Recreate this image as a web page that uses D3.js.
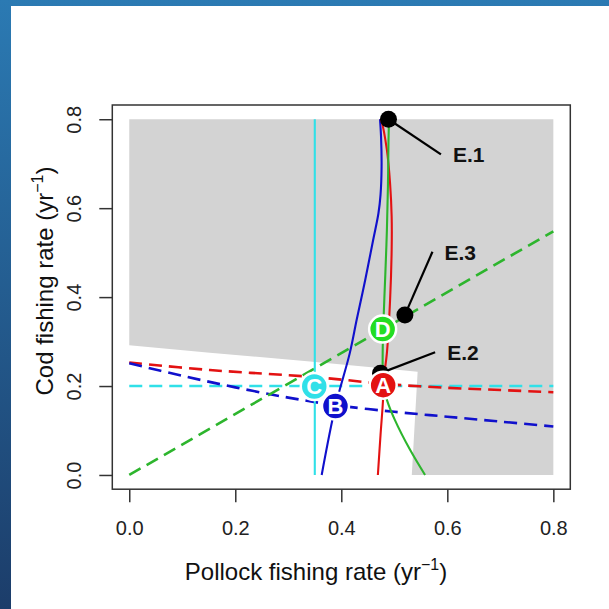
<!DOCTYPE html>
<html>
<head>
<meta charset="utf-8">
<script src="https://cdn.jsdelivr.net/npm/d3@7"></script>
<style>
  body { margin: 0; background: #fff; }
  text { font-family: "Liberation Sans", Arial, sans-serif; }
</style>
</head>
<body>
<div class="vis-chart"></div>
<script>
// ---- data ----
const xTicks = [0, 0.2, 0.4, 0.6, 0.8];
const yTicks = [0, 0.2, 0.4, 0.6, 0.8];

// grey region (pollock F, cod F)
const greyRegion = [[0, 0.8], [0.8, 0.8], [0.8, 0], [0.533, 0], [0.544, 0.232],
  [0.467, 0.241], [0.341, 0.255], [0.152, 0.275], [0, 0.292]];

// solid curves
const redSolid = [[0.469, 0], [0.474, 0.09], [0.479, 0.176], [0.479, 0.205], [0.486, 0.274],
  [0.492, 0.393], [0.495, 0.506], [0.495, 0.581], [0.492, 0.656], [0.486, 0.731], [0.476, 0.795], [0.474, 0.8]];
const blueSolid = [[0.363, 0], [0.389, 0.155], [0.416, 0.274], [0.429, 0.349], [0.445, 0.438],
  [0.46, 0.528], [0.47, 0.588], [0.474, 0.63], [0.476, 0.693], [0.475, 0.76], [0.473, 0.8]];
const greenSolid = [[0.558, 0], [0.53, 0.056], [0.501, 0.124], [0.486, 0.169], [0.479, 0.203],
  [0.478, 0.26], [0.479, 0.327], [0.483, 0.45], [0.486, 0.55], [0.488, 0.65], [0.489, 0.75], [0.49, 0.8]];
const cyanSolid = [[0.35, 0], [0.35, 0.8]];

// dashed curves
const redDashed = [[0, 0.253], [0.152, 0.236], [0.341, 0.221], [0.404, 0.214], [0.479, 0.205],
  [0.6, 0.196], [0.7, 0.191], [0.8, 0.186]];
const blueDashed = [[0, 0.251], [0.1, 0.223], [0.2, 0.197], [0.3, 0.174], [0.389, 0.157],
  [0.5, 0.142], [0.6, 0.131], [0.7, 0.12], [0.8, 0.109]];
const greenDashed = [[0, 0], [0.8, 0.548]];
const cyanDashed = [[0, 0.2], [0.8, 0.2]];

// lettered points
const letterNames = ['A', 'B', 'C', 'D'];
const letterX = [0.479, 0.389, 0.349, 0.478];
const letterY = [0.202, 0.155, 0.199, 0.328];
const letterColors = ['#e31212', '#1010cc', '#30e0e8', '#22dd22'];

// equilibrium points
const eNames = ['E.1', 'E.3', 'E.2'];
const eX = [0.489, 0.52, 0.474];
const eY = [0.8, 0.36, 0.229];
const eLabelX = [0.588, 0.572, 0.577];
const eLabelY = [0.721, 0.502, 0.276];

// ---- drawing ----
const width = 609, height = 609;
const svg = d3.select('.vis-chart').append('svg')
  .attr('width', width).attr('height', height);

const defs = svg.append('defs');
const grad = defs.append('linearGradient').attr('id', 'bg')
  .attr('x1', 0).attr('y1', 0).attr('x2', 0).attr('y2', 1);
grad.append('stop').attr('offset', '0%').attr('stop-color', '#2b7ab3');
grad.append('stop').attr('offset', '100%').attr('stop-color', '#1c3d6a');
svg.append('rect').attr('width', width).attr('height', height).attr('fill', 'url(#bg)');
svg.append('rect').attr('x', 11).attr('y', 6).attr('width', width - 11).attr('height', height - 6)
  .attr('fill', '#fff');

// scales (R style 4% padding)
const x = d3.scaleLinear().domain([-0.032, 0.832]).range([112.3, 570.3]);
const y = d3.scaleLinear().domain([-0.032, 0.832]).range([489.2, 105.0]);

svg.append('path')
  .attr('d', d3.line().x(d => x(d[0])).y(d => y(d[1]))(greyRegion) + 'Z')
  .attr('fill', '#d3d3d3');

const smooth = d3.line().x(d => x(d[0])).y(d => y(d[1])).curve(d3.curveCatmullRom);

const dashed = [[cyanDashed, '#30e0e8'], [redDashed, '#e31212'], [blueDashed, '#1010cc'], [greenDashed, '#2db52d']];
dashed.forEach(([pts, col]) => {
  svg.append('path').attr('d', smooth(pts)).attr('fill', 'none')
    .attr('stroke', col).attr('stroke-width', 2.6).attr('stroke-dasharray', '13,7');
});

const solid = [[cyanSolid, '#30e0e8'], [blueSolid, '#1010cc'], [redSolid, '#e31212'], [greenSolid, '#2db52d']];
solid.forEach(([pts, col]) => {
  svg.append('path').attr('d', smooth(pts)).attr('fill', 'none')
    .attr('stroke', col).attr('stroke-width', 2.1);
});

// E points with leader lines
eNames.forEach((name, i) => {
  svg.append('line')
    .attr('x1', x(eX[i])).attr('y1', y(eY[i]))
    .attr('x2', x(eLabelX[i])).attr('y2', y(eLabelY[i]))
    .attr('stroke', '#000').attr('stroke-width', 2.2);
  svg.append('circle').attr('cx', x(eX[i])).attr('cy', y(eY[i])).attr('r', 8.5).attr('fill', '#000');
  svg.append('text')
    .attr('x', x(eLabelX[i]) + 12).attr('y', y(eLabelY[i]) + 8)
    .attr('font-size', 21).attr('font-weight', 'bold').attr('fill', '#111')
    .text(name);
});

// lettered circles
letterNames.forEach((name, i) => {
  svg.append('circle').attr('cx', x(letterX[i])).attr('cy', y(letterY[i])).attr('r', 13.5)
    .attr('fill', letterColors[i]).attr('stroke', '#fff').attr('stroke-width', 2.5);
  svg.append('text').attr('x', x(letterX[i])).attr('y', y(letterY[i]))
    .attr('dy', '0.36em').attr('text-anchor', 'middle')
    .attr('font-size', 22).attr('font-weight', 'bold').attr('fill', '#fff')
    .text(name);
});

// box
svg.append('rect').attr('x', 112.3).attr('y', 105).attr('width', 458).attr('height', 384.2)
  .attr('fill', 'none').attr('stroke', '#333').attr('stroke-width', 1.5);

// axes
const xAxis = svg.append('g').attr('transform', 'translate(0,489.2)')
  .call(d3.axisBottom(x).tickValues(xTicks).tickFormat(d3.format('.1f')).tickSize(13).tickPadding(19));
xAxis.select('.domain').remove();
xAxis.selectAll('line').attr('stroke', '#333').attr('stroke-width', 1.5);
xAxis.selectAll('text').attr('font-size', 20).attr('fill', '#222')
  .style('font-family', '"Liberation Sans", Arial, sans-serif');

const yAxis = svg.append('g').attr('transform', 'translate(112.3,0)')
  .call(d3.axisLeft(y).tickValues(yTicks).tickFormat(d3.format('.1f')).tickSize(13));
yAxis.select('.domain').remove();
yAxis.selectAll('line').attr('stroke', '#333').attr('stroke-width', 1.5);
yAxis.selectAll('text').attr('x', 0).attr('y', 0).attr('dy', 0)
  .attr('text-anchor', 'middle').attr('transform', 'translate(-31,0) rotate(-90)')
  .attr('font-size', 20).attr('fill', '#222')
  .style('font-family', '"Liberation Sans", Arial, sans-serif');

// axis titles
const xt = svg.append('text').attr('x', 316).attr('y', 580).attr('text-anchor', 'middle')
  .attr('font-size', 24).attr('fill', '#111');
xt.append('tspan').text('Pollock fishing rate (yr');
xt.append('tspan').attr('dy', -10).attr('font-size', 16).text('\u22121');
xt.append('tspan').attr('dy', 10).text(')');

const yt = svg.append('text').attr('transform', 'translate(53,281) rotate(-90)')
  .attr('text-anchor', 'middle').attr('font-size', 24).attr('fill', '#111');
yt.append('tspan').text('Cod fishing rate (yr');
yt.append('tspan').attr('dy', -10).attr('font-size', 16).text('\u22121');
yt.append('tspan').attr('dy', 10).text(')');
</script>
</body>
</html>
